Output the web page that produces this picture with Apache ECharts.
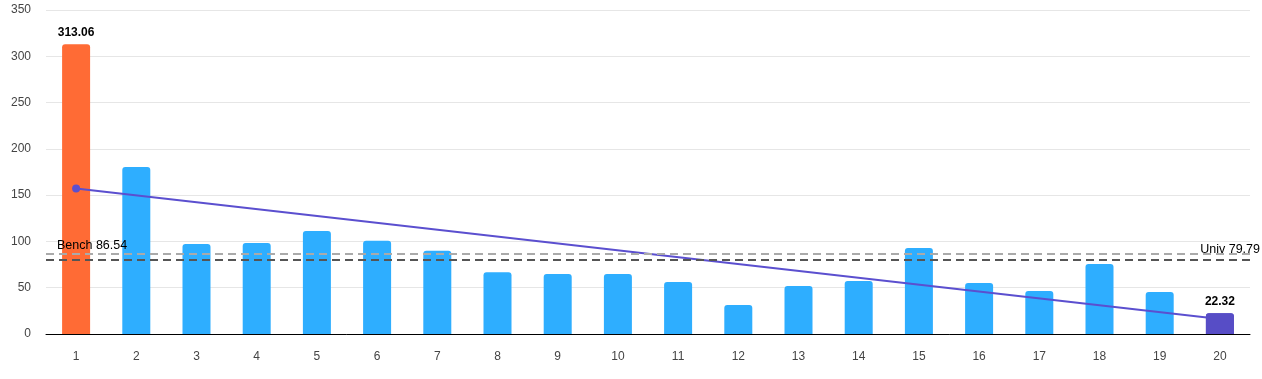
<!DOCTYPE html>
<html><head><meta charset="utf-8">
<script src="https://cdn.jsdelivr.net/npm/echarts@6/dist/echarts.min.js"></script>
<style>html,body{margin:0;padding:0;background:#fff}#c{width:1262px;height:379px}</style>
</head><body><div id="c"></div>
<script>
const categories = ['1','2','3','4','5','6','7','8','9','10','11','12','13','14','15','16','17','18','19','20'];
const values = [313.06,180.5,97.1,98.2,111.4,100.6,89.9,66.6,64.8,64.8,56.2,31.3,51.9,57.3,92.9,55.0,46.4,75.6,45.4,22.32];
const trendStart = 157.2;
const trendEnd = 16.1;
const benchValue = 86.54;
const univValue = 79.79;
const yTicks = [0,50,100,150,200,250,300,350];

const COL_FIRST = '#FF6B35', COL_LAST = '#574DC6', COL_BAR = '#2EAEFF';
const last = values.length - 1;
const barData = values.map((v,i)=>{
  const o = {value:v};
  if(i===0){o.itemStyle={color:COL_FIRST};o.label={show:true};}
  if(i===last){o.itemStyle={color:COL_LAST};}
  return o;
});
const lastData = values.map((v,i)=> i===last ? v : null);
const trendData = categories.map((c,i)=> i===0 ? {value:trendStart, symbol:'circle'} : (i===last ? {value:trendEnd, symbol:'none'} : null));

const chart = echarts.init(document.getElementById('c'));
chart.setOption({
  animation:false,
  textStyle:{fontFamily:'Liberation Sans, Arial, sans-serif'},
  grid:{left:46,right:12,top:10,bottom:45,containLabel:false},
  xAxis:{type:'category',data:categories,
    axisLine:{lineStyle:{color:'#000',width:1}},axisTick:{show:false},
    axisLabel:{color:'#444',fontSize:12,margin:17}},
  yAxis:{type:'value',min:yTicks[0],max:yTicks[yTicks.length-1],interval:50,
    axisLine:{show:false},axisTick:{show:false},
    splitLine:{lineStyle:{color:'#e6e6e6'}},
    axisLabel:{color:'#444',fontSize:12,margin:15}},
  series:[
    {type:'bar',data:barData,barWidth:28,itemStyle:{color:COL_BAR,borderRadius:[3,3,0,0]},
     label:{show:false,position:'top',fontWeight:'bold',fontSize:12,color:'#000',distance:6,formatter:p=>p.value.toFixed(2)},
     markLine:{silent:true,symbol:'none',
      data:[
        {yAxis:benchValue,lineStyle:{color:'#aaaaaa',type:[8,5],width:2},
         label:{position:'insideStartTop',formatter:'Bench '+benchValue.toFixed(2),color:'#000',fontSize:12.5,distance:[11,2]}},
        {yAxis:univValue,lineStyle:{color:'#555555',type:[8,5],width:2},
         label:{position:'insideEndTop',formatter:'Univ '+univValue.toFixed(2),color:'#000',fontSize:12.5,distance:[-10,4]}}
      ]},
     z:2},
    {type:'line',data:trendData,connectNulls:true,symbolSize:8,showSymbol:true,
     lineStyle:{color:'#5B4FCF',width:2},itemStyle:{color:'#5B4FCF'},z:3},
    {type:'bar',data:lastData,barWidth:28,barGap:'-100%',itemStyle:{color:COL_LAST,borderRadius:[3,3,0,0]},
     label:{show:true,position:'top',fontWeight:'bold',fontSize:12,color:'#000',distance:6,formatter:p=>p.value.toFixed(2)},
     z:4}
  ]
});
</script></body></html>
